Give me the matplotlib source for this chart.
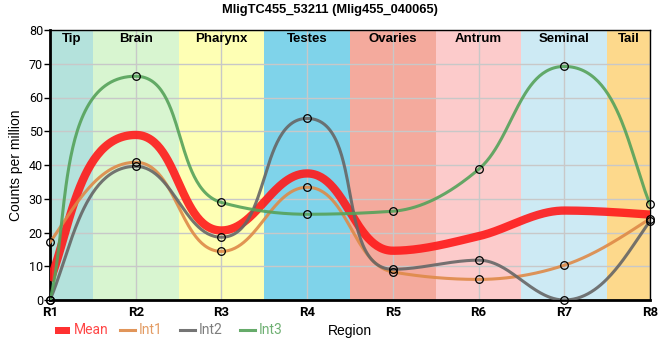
import numpy as np
import matplotlib
matplotlib.use("Agg")
import matplotlib.pyplot as plt
from matplotlib.lines import Line2D
from matplotlib.patches import Rectangle

# ---------------- data ----------------
regions = ["R1", "R2", "R3", "R4", "R5", "R6", "R7", "R8"]
band_labels = ["Tip", "Brain", "Pharynx", "Testes", "Ovaries", "Antrum", "Seminal", "Tail"]
band_colors = ["#b4e2dc", "#d8f5d0", "#feffb4", "#7fd3ea", "#f4aa9d", "#fccbcb", "#cdeaf4", "#fdd98c"]
int1 = [17.1, 40.8, 14.4, 33.4, 8.3, 6.1, 10.3, 24.1]
int2 = [0.0, 39.6, 18.6, 53.8, 9.1, 11.8, 0.0, 23.4]
int3 = [0.0, 66.3, 28.9, 25.4, 26.3, 38.7, 69.2, 28.4]
mean = [5.7, 48.9, 20.6, 37.5, 14.6, 18.9, 26.5, 25.3]
series_names = ["Int1", "Int2", "Int3"]
series_colors = ["#de8a48", "#666666", "#55a25a"]
mean_color = "#ff1a1a"
title = "MligTC455_53211 (Mlig455_040065)"


def smooth_curve(ax, xs, ys, k=1 / 3, n=60):
    """Smooth monotone-style curve built in display space."""
    P = ax.transData.transform(np.column_stack([xs, ys]).astype(float))
    m = len(P)
    dx = np.diff(P[:, 0])
    dy = np.diff(P[:, 1])
    s = dy / dx
    t = np.zeros(m)
    for i in range(1, m - 1):
        h0, h1 = dx[i - 1], dx[i]
        s0, s1 = s[i - 1], s[i]
        p = (s0 * h1 + s1 * h0) / (h0 + h1)
        t[i] = (np.sign(s0) + np.sign(s1)) * min(abs(s0), abs(s1), 0.5 * abs(p))
    t[0] = (3 * s[0] - t[1]) / 2
    t[-1] = (3 * s[-1] - t[-2]) / 2
    d = np.column_stack([np.ones(m), t])
    d /= np.hypot(d[:, 0], d[:, 1])[:, None]
    u = np.linspace(0, 1, n)[:, None]
    pts = []
    for i in range(m - 1):
        L = k * np.hypot(dx[i], dy[i])
        p0, p3 = P[i], P[i + 1]
        p1 = p0 + L * d[i]
        p2 = p3 - L * d[i + 1]
        b = (1 - u) ** 3 * p0 + 3 * (1 - u) ** 2 * u * p1 + 3 * (1 - u) * u ** 2 * p2 + u ** 3 * p3
        pts.append(b)
    pts = np.vstack(pts)
    back = ax.transData.inverted().transform(pts)
    return back[:, 0], back[:, 1]


plt.rcParams["font.family"] = ["Roboto", "DejaVu Sans"]

fig = plt.figure(figsize=(6.6, 3.6), dpi=100)
ax = fig.add_axes([50 / 660, 1 - 300 / 360, 600 / 660, 270 / 360])

xpos = np.arange(len(regions))
ax.set_xlim(0, len(regions) - 1)
ax.set_ylim(0, 80)

# bands
for i, (lab, col) in enumerate(zip(band_labels, band_colors)):
    lo = max(i - 0.5, 0)
    hi = min(i + 0.5, len(regions) - 1)
    ax.axvspan(lo, hi, color=col, zorder=0, lw=0)
    ax.text((lo + hi) / 2, 77.2, lab, ha="center", va="center", fontsize=9.5,
            fontweight="bold", family=["Liberation Sans", "DejaVu Sans"], zorder=5)

ax.grid(True, color="#c8c8c8", lw=1, zorder=1)
ax.set_axisbelow(True)

# mean
mx, my = smooth_curve(ax, xpos, mean)
ax.plot(mx, my, color=mean_color, lw=6, alpha=0.9, zorder=3, solid_capstyle="butt")

for vals, col in zip([int1, int2, int3], series_colors):
    sx, sy = smooth_curve(ax, xpos, vals)
    ax.plot(sx, sy, color=col, lw=2.2, alpha=0.9, zorder=4)
    ax.plot(xpos, vals, ls="none", marker="o", ms=5.5, mfc="none", mec="black",
            mew=0.9, zorder=6, clip_on=False)

ax.set_xticks(xpos)
ax.set_xticklabels(regions)
ax.set_yticks(np.arange(0, 81, 10))
ax.tick_params(axis="x", labelsize=9.5, length=0, pad=4)
ax.tick_params(axis="y", labelsize=9, length=4, width=1, pad=1)
for lbl in ax.get_xticklabels():
    lbl.set_fontweight("bold")
for side in ["top", "right"]:
    ax.spines[side].set_linewidth(1)
for side in ["left", "bottom"]:
    ax.spines[side].set_linewidth(2)
ax.set_ylabel("Counts per million", fontsize=10, labelpad=4,
              family=["Liberation Sans", "DejaVu Sans"])

fig.text(0.5, 1 - 10 / 360, title, ha="center", va="center", fontsize=9.3,
         fontweight="bold", family=["Liberation Sans", "DejaVu Sans"])
fig.text(350 / 660, 1 - 331 / 360, "Region", ha="center", va="center", fontsize=10,
         family=["Liberation Sans", "DejaVu Sans"])

# manual legend (figure pixel layout)
W, H = 660.0, 360.0
ly = 1 - 330 / H
fig.add_artist(Rectangle((55 / W, 1 - 334 / H), 15 / W, 7 / H, transform=fig.transFigure,
                         facecolor=mean_color, edgecolor="none", alpha=0.9))
fig.text(74 / W, ly, "Mean", ha="left", va="center", fontsize=10, color=mean_color, alpha=0.8)
for j, (name, col) in enumerate(zip(series_names, series_colors)):
    x0 = 120 + 60 * j
    fig.add_artist(Line2D([x0 / W, (x0 + 15) / W], [ly, ly], transform=fig.transFigure,
                          color=col, lw=2.2, alpha=0.9))
    fig.text((x0 + 19) / W, ly, name, ha="left", va="center", fontsize=10, color=col, alpha=0.85)

fig.savefig("out.png", dpi=100)
